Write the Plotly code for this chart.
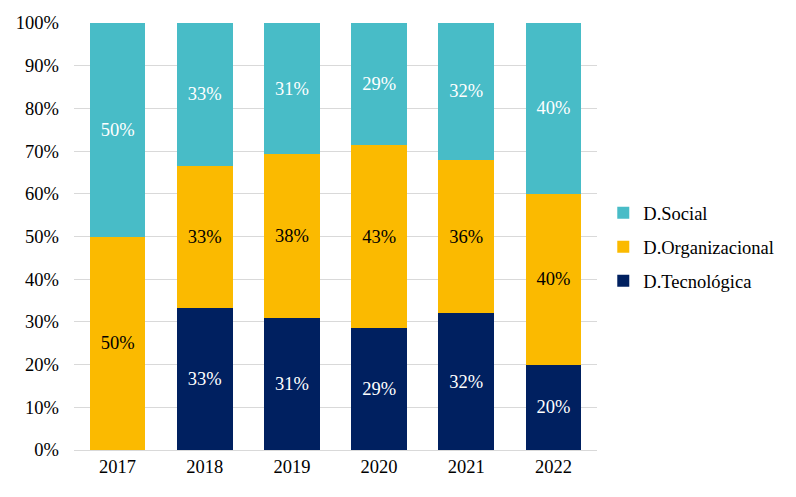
import plotly.graph_objects as go

years = ["2017", "2018", "2019", "2020", "2021", "2022"]
tecnologica = [0, 33.3, 30.8, 28.6, 32.0, 20.0]
organizacional = [50.0, 33.3, 38.5, 42.8, 36.0, 40.0]
social = [50.0, 33.4, 30.7, 28.6, 32.0, 40.0]

series = [
    ("D.Tecnológica", tecnologica, "#002060", "white", 3),
    ("D.Organizacional", organizacional, "#FBBA00", "black", 2),
    ("D.Social", social, "#48BCC7", "white", 1),
]

FONT = "Liberation Serif"
FS = 18.5

fig = go.Figure()
for name, vals, color, tcolor, rank in series:
    fig.add_trace(go.Bar(
        x=years,
        y=[v / 100 for v in vals],
        name=name,
        legendgroup=name,
        legendrank=rank,
        marker=dict(color=color, line=dict(width=0)),
        text=[f"{round(v)}%" if v > 0 else "" for v in vals],
        textposition="inside",
        insidetextanchor="middle",
        textangle=0,
        textfont=dict(color=tcolor, size=FS, family=FONT),
        hoverinfo="skip",
    ))

fig.update_layout(
    barmode="stack",
    bargap=0.36,
    width=788,
    height=489,
    margin=dict(l=66, r=199, t=15, b=47, autoexpand=False),
    plot_bgcolor="white",
    paper_bgcolor="white",
    font=dict(family=FONT, size=FS, color="black"),
    uniformtext=dict(minsize=FS, mode="show"),
    legend=dict(
        x=1.012, y=0.475, xanchor="left", yanchor="middle",
        traceorder="grouped",
        tracegroupgap=7,
        font=dict(size=FS, family=FONT, color="black"),
        itemwidth=30,
    ),
    xaxis=dict(
        automargin=False,
        showgrid=False,
        showline=True,
        linecolor="#D9D9D9",
        linewidth=1,
        ticks="",
        tickfont=dict(size=FS, family=FONT, color="black"),
    ),
    yaxis=dict(
        automargin=False,
        range=[0, 1],
        tickvals=[i / 10 for i in range(11)],
        tickformat=".0%",
        showgrid=True,
        gridcolor="#D9D9D9",
        gridwidth=1,
        zeroline=False,
        showline=False,
        ticks="",
        ticklabelstandoff=14,
        tickfont=dict(size=FS, family=FONT, color="black"),
    ),
)

fig.write_html("out.html")
